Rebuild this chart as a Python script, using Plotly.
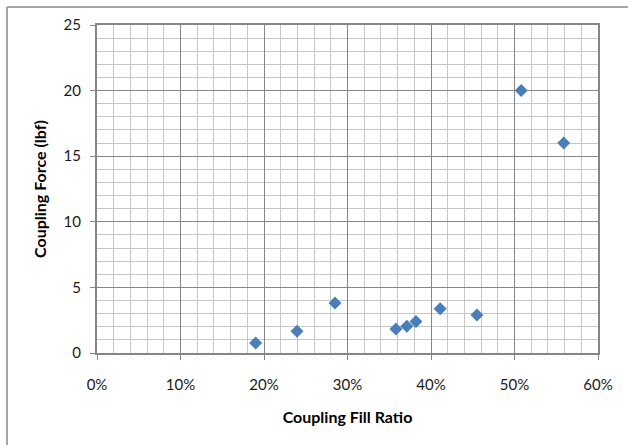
import plotly.graph_objects as go

fill_ratio = [0.190, 0.2395, 0.285, 0.358, 0.371, 0.382, 0.411, 0.455, 0.508, 0.559]
coupling_force = [0.76, 1.65, 3.81, 1.83, 2.03, 2.41, 3.38, 2.90, 20.0, 16.0]

x_ticks = [0, 0.1, 0.2, 0.3, 0.4, 0.5, 0.6]
x_tick_labels = ["0%", "10%", "20%", "30%", "40%", "50%", "60%"]
y_ticks = [0, 5, 10, 15, 20, 25]

fig = go.Figure()
fig.add_trace(go.Scatter(
    x=fill_ratio, y=coupling_force, mode="markers",
    marker=dict(symbol="diamond", size=10, color="#4A7EBB", line=dict(width=0)),
    showlegend=False,
))

font = dict(family="Lato, Carlito, Calibri, sans-serif", size=15, color="#1a1a1a")
major = "#868686"
minorc = "#c6c6c6"
title_font = dict(family=font["family"], size=16, color="#000")

fig.update_xaxes(
    range=[0, 0.6], tickvals=x_ticks, ticktext=x_tick_labels,
    showgrid=True, gridcolor=major, gridwidth=1,
    minor=dict(dtick=0.02, showgrid=True, gridcolor=minorc, gridwidth=1, ticks=""),
    ticks="outside", ticklen=5, tickcolor=major, tickwidth=1,
    showline=True, linecolor=major, linewidth=2, mirror=True,
    zeroline=False, tickfont=font, ticklabelstandoff=12,
    title=dict(text="<b>Coupling Fill Ratio</b>", font=title_font, standoff=20),
)
fig.update_yaxes(
    range=[0, 25], tickvals=y_ticks,
    showgrid=True, gridcolor=major, gridwidth=1,
    minor=dict(dtick=1, showgrid=True, gridcolor=minorc, gridwidth=1, ticks=""),
    ticks="outside", ticklen=5, tickcolor=major, tickwidth=1,
    showline=True, linecolor=major, linewidth=2, mirror=True,
    zeroline=False, tickfont=font, ticklabelstandoff=6,
    title=dict(text="<b>Coupling Force (lbf)</b>", font=title_font, standoff=13),
)

# outer chart border (left and top edges visible)
L, R, T, B = 97, 30, 25, 92
pw, ph = 628 - L - R, 445 - T - B
bx = (7 - L) / pw
by = 1 + (T - 7) / ph
fig.add_shape(type="line", xref="paper", yref="paper", x0=bx, x1=bx, y0=-2, y1=by,
              line=dict(color="#a6a6a6", width=2))
fig.add_shape(type="line", xref="paper", yref="paper", x0=bx, x1=2, y0=by, y1=by,
              line=dict(color="#a6a6a6", width=2))

fig.update_layout(
    width=628, height=445,
    margin=dict(l=L, r=R, t=T, b=B),
    plot_bgcolor="white", paper_bgcolor="white",
    font=font,
)
fig.write_html("out.html")
